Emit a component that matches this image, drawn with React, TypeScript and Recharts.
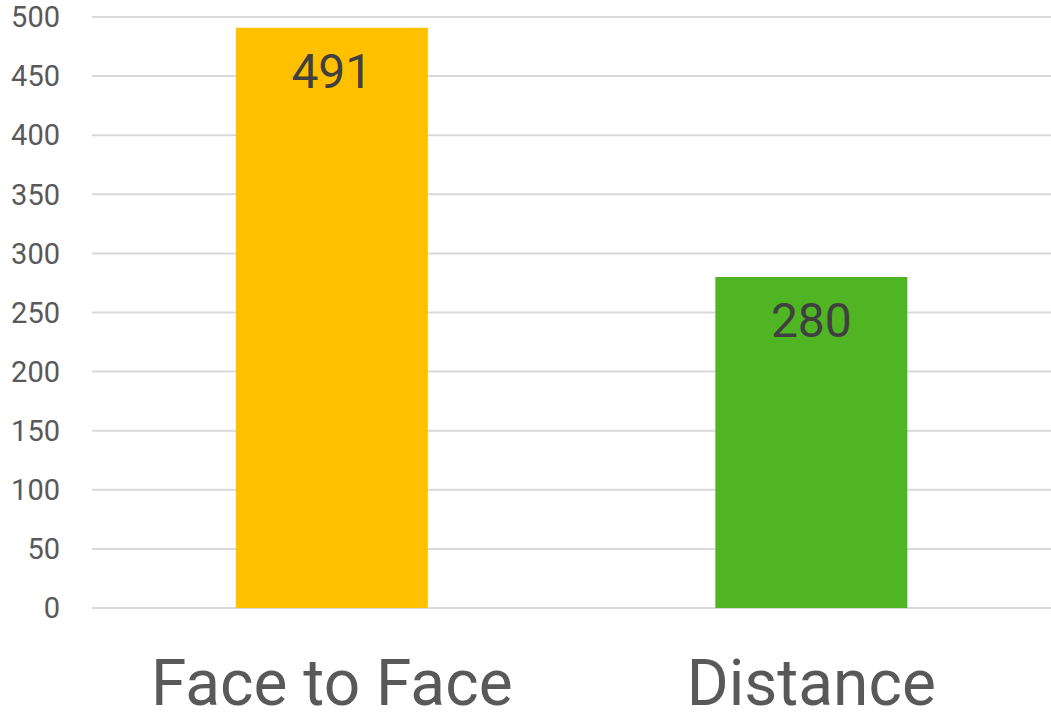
import React from "react";
import {
  BarChart,
  Bar,
  XAxis,
  YAxis,
  CartesianGrid,
  Cell,
  LabelList,
} from "recharts";

const categories = ["Face to Face", "Distance"];
const counts = [491, 280];
const barColors = ["#FFC000", "#50B523"];
const yTicks = [0, 50, 100, 150, 200, 250, 300, 350, 400, 450, 500];

const data = categories.map((name, i) => ({ name, value: counts[i] }));

const FONT = "Roboto, 'Noto Sans', sans-serif";

export default function App() {
  return (
    <div style={{ position: "absolute", left: 0, top: 0, background: "#fff" }}>
      <BarChart
        width={1051}
        height={721}
        data={data}
        margin={{ top: 17, right: 0, left: 0, bottom: 0 }}
        barCategoryGap="30%"
      >
        <CartesianGrid vertical={false} stroke="#d9d9d9" strokeWidth={2} />
        <XAxis
          dataKey="name"
          height={113}
          axisLine={false}
          tickLine={false}
          tickSize={0}
          tickMargin={52}
          tick={{ fill: "#595959", fontSize: 64, fontFamily: FONT }}
        />
        <YAxis
          width={92}
          domain={[0, 500]}
          ticks={yTicks}
          interval={0}
          axisLine={false}
          tickLine={false}
          tickSize={0}
          tickMargin={32}
          tick={{ fill: "#595959", fontSize: 29, fontFamily: FONT }}
        />
        <Bar dataKey="value" isAnimationActive={false}>
          {data.map((d, i) => (
            <Cell key={d.name} fill={barColors[i]} />
          ))}
          <LabelList
            dataKey="value"
            position="insideTop"
            offset={26}
            fill="#404040"
            fontSize={48}
            fontFamily={FONT}
          />
        </Bar>
      </BarChart>
    </div>
  );
}
